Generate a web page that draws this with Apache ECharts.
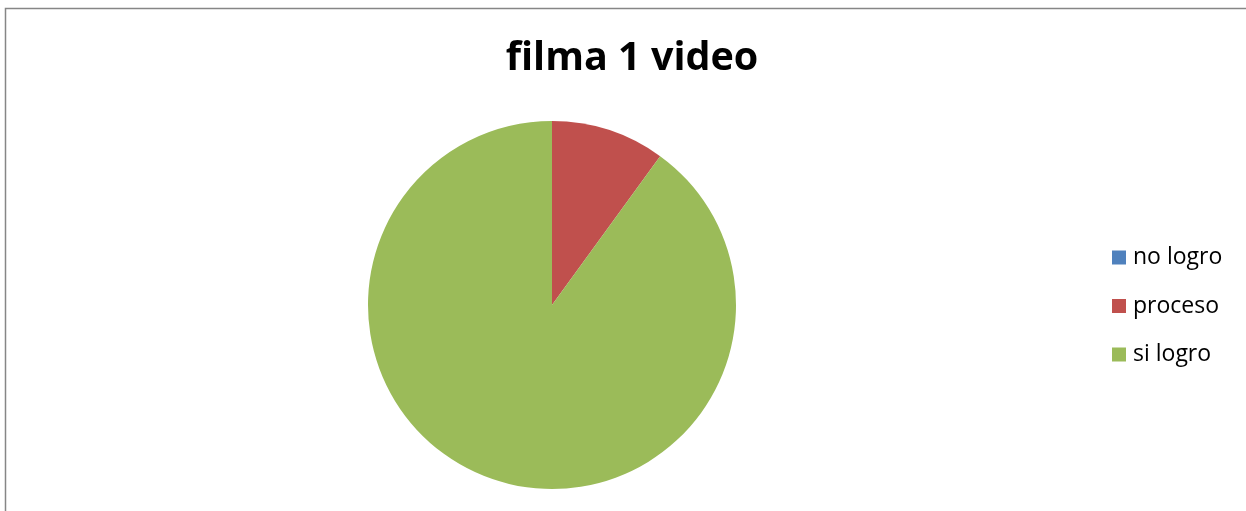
<!DOCTYPE html>
<html>
<head>
<meta charset="utf-8">
<style>
  html, body { margin: 0; padding: 0; background: #fff; }
  #chart { width: 1246px; height: 511px; }
</style>
<script src="https://cdn.jsdelivr.net/npm/echarts@6/dist/echarts.min.js"></script>
</head>
<body>
<div id="chart"></div>
<script>
// Categories and counts for the pie
const categories = ['no logro', 'proceso', 'si logro'];
const counts = [0, 1, 9];
const colors = ['#4F81BD', '#C0504D', '#9BBB59'];
const titleText = 'filma 1 video';

const chart = echarts.init(document.getElementById('chart'), null, { renderer: 'canvas' });

chart.setOption({
  animation: false,
  backgroundColor: '#ffffff',
  color: colors,
  title: {
    text: titleText,
    left: 627,
    textAlign: 'center',
    top: 34,
    textStyle: {
      fontFamily: 'Open Sans',
      fontWeight: 'bold',
      fontSize: 39.5,
      color: '#000'
    }
  },
  legend: {
    orient: 'vertical',
    left: 1112,
    top: 246,
    padding: 0,
    itemWidth: 14,
    itemHeight: 14,
    itemGap: 25.5,
    icon: 'rect',
    selectedMode: false,
    itemStyle: { borderWidth: 0 },
    textStyle: {
      fontFamily: 'Open Sans',
      fontSize: 23,
      lineHeight: 23,
      color: '#000',
      padding: [0, 0, 0, 2]
    },
    data: categories
  },
  graphic: [{
    type: 'rect',
    shape: { x: 5.5, y: 8.5, width: 1300, height: 600 },
    style: { fill: 'none', stroke: '#868686', lineWidth: 1.5 },
    silent: true
  }],
  series: [{
    type: 'pie',
    center: [552, 305],
    radius: 184,
    startAngle: 90,
    clockwise: true,
    label: { show: false },
    labelLine: { show: false },
    emphasis: { disabled: true },
    itemStyle: { borderWidth: 0 },
    data: categories.map((name, i) => ({ name: name, value: counts[i] }))
  }]
});
</script>
</body>
</html>
